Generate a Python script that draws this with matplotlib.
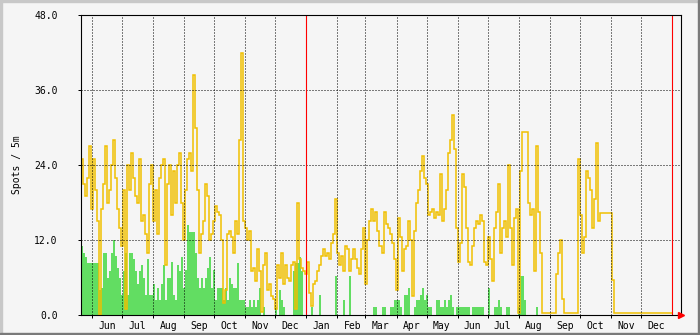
import numpy as np
import matplotlib
matplotlib.use('Agg')
import matplotlib.pyplot as plt
import matplotlib.dates as mdates
from matplotlib.patches import Rectangle

# time axis: 2-day steps starting 2018-05-21
start = np.datetime64('2018-05-21')
end = np.datetime64('2020-01-10')
step_days = 2

# spots per 5 minutes, yellow line (2-day steps)
spots_total = [
    25, 21, 19, 22, 27, 17, 25, 20, 15, 0, 17, 21, 27, 18, 20, 24, 28, 22, 17, 14,
    11, 20, 1, 24, 20, 26, 22, 19, 18, 25, 15, 16, 13, 10, 21, 24, 15, 20, 13, 22,
    24, 25, 8, 21, 24, 16, 23, 18, 24, 26,
    18, 12, 20, 25, 26, 23, 38.4, 30, 20, 10, 13, 15, 21, 19, 12, 13, 15, 17.5, 16.5, 16,
    12, 2, 4, 13, 13.5, 12.5, 10, 15, 13, 28, 42, 15, 14, 12, 13.5, 7, 7.5, 5.5, 10.5, 7,
    0.5, 8, 10, 4, 5, 3, 2.5, 1, 8, 6,
    10, 5, 8, 6, 5.5, 8, 8.5, 1, 18, 9, 7.5, 7, 6.5, 8.5, 3.5, 1.5, 5, 5.5, 7, 8,
    9.5, 10.5, 9.5, 10, 9, 11.5, 13, 18.5, 10, 8, 9.5, 7, 11, 10.5, 7, 9, 10.5, 9, 7.5, 6.5,
    10.5, 14, 5, 12, 15, 17, 15, 16.5, 13.5, 11,
    10, 16.5, 14.5, 14, 13, 11.5, 9, 4, 15.5, 12.5, 7, 10.5, 11, 15, 12, 3, 13.5, 18, 20, 23,
    25.5, 22, 21, 16, 16.5, 17, 15.5, 16.5, 16, 22.5, 15, 17, 20, 26, 28, 32, 26.5, 14, 8.5, 11.5,
    22.5, 20.5, 14, 8.5, 8, 11, 14, 15, 14.5, 16,
    15, 8.5, 8, 12.5, 9, 5.5, 14, 16.5, 21, 10, 14, 15, 12.5, 24, 14, 8, 15.5, 17, 0.3, 23,
    29.3, 29.3, 29.3, 18, 16, 17, 7, 27, 16.5, 10, 0.3, 0.3, 0.3, 0.3, 0.3, 0.3, 0.3, 6.5, 10, 12,
    2.5, 0.3, 0.3, 0.3, 0.3, 0.3, 0.3, 0.3, 25, 16,
    10, 12.5, 23, 22, 20, 14, 18.5, 27.5, 15, 16.3, 16.3, 16.3, 16.3, 16.3, 16.3, 5.6, 0.3, 0.3, 0.3, 0.3,
    0.3, 0.3, 0.3, 0.3, 0.3, 0.3, 0.3, 0.3, 0.3, 0.3, 0.3, 0.3, 0.3, 0.3, 0.3, 0.3, 0.3, 0.3, 0.3, 0.3,
    0.3, 0.3, 0.3, 0.3, 0.3,
]

# green area (2-day steps)
spots_area = [
    11, 10, 9.3, 8.3, 8.3, 8.3, 8.3, 8.3, 8.3, 4, 4.3, 10, 10, 6, 7, 10, 12, 9.5, 7.5, 6,
    3.2, 7, 10, 3.2, 10, 10, 9, 7, 5, 7, 8, 6, 3.2, 9, 3.2, 3.2, 5, 2.4, 4.3, 2.4,
    5, 8, 2.4, 6, 6, 8.5, 3.2, 2.4, 8, 7,
    9.3, 4.3, 7.2, 14.4, 13.3, 13.3, 13.3, 10, 6, 4.3, 6, 4.3, 6, 7.5, 9.3, 4.3, 7.2, 2.4, 4.3, 4.3,
    4.3, 2.4, 4.3, 2.4, 6, 5, 4.3, 4.3, 8.3, 2.4, 2.4, 2.4, 1.3, 1.3, 2.4, 1.3, 2.4, 1.3, 2.4, 4.3,
    0, 1.3, 0, 0, 0, 0, 0, 1.3, 0, 4,
    2.4, 1.3, 0, 0, 0, 0, 7, 8.3, 8.3, 9.3, 7, 0, 0, 0, 0, 1.3, 0, 0, 0, 3.2,
    0, 0, 0, 0, 0, 0, 0, 6.2, 0, 0, 0, 2.4, 0, 0, 6.2, 0, 0, 0, 0, 0,
    0, 0, 0, 0, 0, 0, 1.3, 1.3, 0, 0,
    1.3, 1.3, 0, 0, 1.3, 1.3, 2.4, 2.4, 2.4, 1.3, 0, 3.2, 3.2, 4.3, 0, 0, 1.3, 2.4, 2.4, 3.2,
    4.3, 2.4, 3.2, 1.3, 1.3, 0, 0, 2.4, 2.4, 1.3, 1.3, 2.4, 1.3, 2.4, 3.2, 1.3, 0, 1.3, 1.3, 1.3,
    1.3, 1.3, 1.3, 1.3, 0, 1.3, 1.3, 1.3, 1.3, 1.3,
    1.3, 0, 0, 4.3, 0, 0, 1.3, 1.3, 2.4, 1.3, 0, 0, 1.3, 1.3, 0, 0, 0, 0, 1.3, 6.2,
    6.2, 2.4, 0, 0, 0, 0, 0, 1.3, 0, 0, 0, 0, 0, 0, 0, 0, 0, 0, 0, 0,
    0, 0, 0, 0, 0, 0, 0, 0, 0, 0,
    0, 0, 0, 0, 0, 0, 0, 0, 0, 0, 0, 0, 0, 0, 0, 0, 0, 0, 0, 0,
    0, 0, 0, 0, 0, 0, 0, 0, 0, 0, 0, 0, 0, 0, 0, 0, 0, 0, 0, 0,
    0, 0, 0, 0, 0,
]

yticks = [0, 12, 24, 36, 48]
year_marks = ['2019-01-01', '2020-01-01']

edges = start + np.arange(len(spots_total) + 1) * np.timedelta64(step_days, 'D')
edges_num = mdates.date2num(edges.astype('datetime64[D]'))

mono = 'DejaVu Sans Mono'
fig = plt.figure(figsize=(7, 3.35), dpi=100, facecolor='#F5F5F5')
ax = fig.add_axes([81/700, 20/335, 600/700, 300/335])
ax.set_facecolor('#F5F5F5')

ax.stairs(spots_area, edges_num, fill=True, color='#62DD62', lw=0, zorder=2)
ax.stairs(spots_total, edges_num, baseline=None, color='#F0C000', lw=1.1, zorder=3)

# dotted grid on top of the data
months = np.arange('2018-06', '2020-01', dtype='datetime64[M]')
month_num = mdates.date2num(months.astype('datetime64[D]'))
for m in month_num:
    ax.axvline(m, color='black', lw=0.72, ls=(0, (1, 2)), zorder=4)
for y in yticks[1:-1]:
    ax.axhline(y, color='black', lw=0.72, ls=(0, (1, 2)), zorder=4)
for d in year_marks:
    ax.axvline(mdates.date2num(np.datetime64(d)), color='red', lw=0.8, zorder=5)

ax.set_xlim(mdates.date2num(start), mdates.date2num(end))
ax.set_ylim(0, 48)

ax.set_yticks(yticks)
ax.set_yticklabels(['%.1f' % v for v in yticks], fontfamily=mono, fontsize=7)
ax.tick_params(axis='y', length=2.2, width=0.72, pad=14.5)

ax.set_xticks(month_num)
ax.set_xticklabels([])
ax.tick_params(axis='x', which='major', length=2.2, width=0.72)
mid = month_num + 15
ax.set_xticks(mid, minor=True)
ax.set_xticklabels([mdates.num2date(m).strftime('%b') for m in mid], minor=True,
                   fontfamily=mono, fontsize=7)
ax.tick_params(axis='x', which='minor', length=0, pad=4)

for s in ax.spines.values():
    s.set_linewidth(0.8)
    s.set_zorder(6)

ax.plot(1.0, 0, marker='>', color='red', markersize=4, transform=ax.transAxes,
        clip_on=False, zorder=7)

fig.text(17/700, 170/335, 'Spots / 5m', rotation=90, fontfamily=mono, fontsize=7,
         ha='center', va='center')

# 3d-ish frame
fig.add_artist(Rectangle((0, 0), 2/700, 1, transform=fig.transFigure, color='#C8C8C8'))
fig.add_artist(Rectangle((0, 1 - 2/335), 1, 2/335, transform=fig.transFigure, color='#C8C8C8'))
fig.add_artist(Rectangle((1 - 2/700, 0), 2/700, 1, transform=fig.transFigure, color='#7A7A7A'))
fig.add_artist(Rectangle((0, 0), 1, 2/335, transform=fig.transFigure, color='#7A7A7A'))

fig.savefig('out.png', dpi=100, facecolor=fig.get_facecolor())
